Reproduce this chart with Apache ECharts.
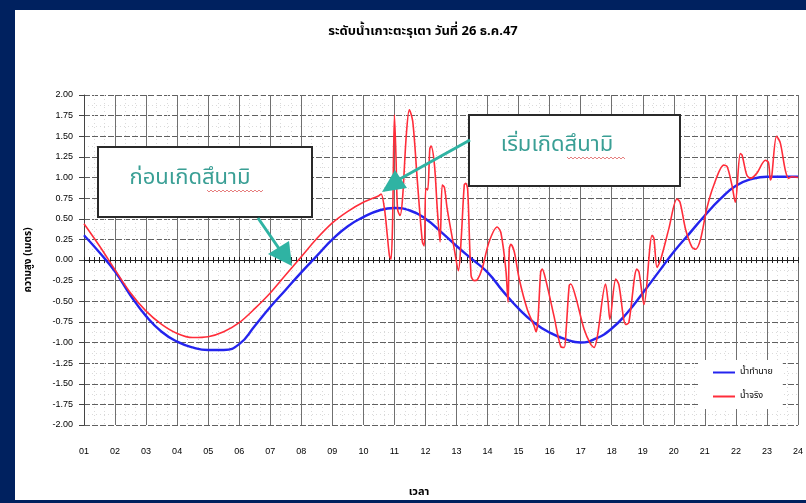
<!DOCTYPE html>
<html>
<head>
<meta charset="utf-8">
<script src="https://cdn.jsdelivr.net/npm/echarts@6/dist/echarts.min.js"></script>
<style>
  html, body { margin: 0; padding: 0; background: #00215f; }
  #chart { width: 806px; height: 503px; }
</style>
</head>
<body>
<div id="chart"></div>
<script>
// ---- data ----
const titleText = 'ระดับน้ำเกาะตะรุเตา วันที่ 26 ธ.ค.47';
const xAxisName = 'เวลา';
const yAxisName = 'ความสูง (เมตร)';
const seriesNames = ['น้ำทำนาย', 'น้ำจริง'];
const noteBefore = 'ก่อนเกิดสึนามิ';
const noteStart = 'เริ่มเกิดสึนามิ';

const hourTicks = ['01','02','03','04','05','06','07','08','09','10','11','12','13','14','15','16','17','18','19','20','21','22','23','24'];

// predicted tide (hour, metres)
const blueHours = [1, 1.5, 2, 2.5, 3, 3.5, 4, 4.5, 5, 5.5, 6, 6.5, 7, 7.5, 8, 8.5, 9, 9.5, 10, 10.5, 11, 11.5, 12, 12.5, 13, 13.5, 14, 14.5, 15, 15.5, 16, 16.5, 17, 17.5, 18, 18.5, 19, 19.5, 20, 20.5, 21, 21.5, 22, 22.5, 23, 23.5, 24];
const blueValues = [0.30, 0.09, -0.14, -0.43, -0.68, -0.87, -0.99, -1.06, -1.09, -1.09, -1.02, -0.80, -0.57, -0.36, -0.15, 0.05, 0.25, 0.41, 0.52, 0.60, 0.63, 0.60, 0.50, 0.34, 0.17, 0.01, -0.15, -0.38, -0.59, -0.76, -0.88, -0.96, -1.00, -0.95, -0.83, -0.64, -0.40, -0.15, 0.10, 0.32, 0.54, 0.74, 0.90, 0.98, 1.01, 1.01, 1.01];

// observed water level (hour, metres)
const redHours = [1.0, 1.5, 2.0, 2.5, 3.0, 3.5, 4.0, 4.5, 5.0, 5.5, 6.0, 6.5, 7.0, 7.5, 8.0, 8.5, 9.0, 9.5, 10.0, 10.5,
  10.57, 10.68, 10.77, 10.84, 10.89, 10.94, 11.0, 11.05, 11.1, 11.18, 11.26, 11.38, 11.48, 11.59, 11.74, 11.9, 11.96,
  12.01, 12.07, 12.14, 12.18, 12.29, 12.38, 12.47, 12.54, 12.61, 12.7, 12.93, 13.06, 13.15, 13.25, 13.3, 13.36, 13.47,
  13.57, 13.67, 13.83, 14.05, 14.31, 14.43, 14.59, 14.66, 14.7, 14.75, 14.86, 15.02, 15.28, 15.5, 15.56, 15.62, 15.71,
  15.76, 15.88, 16.14, 16.36, 16.47, 16.53, 16.63, 16.68, 16.84, 17.11, 17.32, 17.43, 17.54, 17.8, 17.88, 17.94, 18.13,
  18.23, 18.45, 18.55, 18.81, 18.88, 19.04, 19.3, 19.36, 19.46, 19.58, 19.84, 20.1, 20.2, 20.38, 20.58, 20.7, 20.86,
  21.06, 21.29, 21.61, 21.72, 21.87, 21.98, 22.14, 22.2, 22.35, 22.47, 22.67, 22.95, 23.05, 23.11, 23.15, 23.31, 23.43,
  23.59, 23.7, 23.8, 24.0];
const redValues = [0.44, 0.17, -0.12, -0.40, -0.62, -0.78, -0.89, -0.94, -0.93, -0.87, -0.76, -0.59, -0.40, -0.18, 0.04, 0.26, 0.45, 0.59, 0.70, 0.78,
  0.80, 0.62, 0.30, 0.05, 0.01, 0.45, 1.76, 1.25, 0.62, 0.54, 0.74, 1.50, 1.82, 1.68, 0.95, 0.22, 0.17,
  0.87, 0.85, 1.35, 1.38, 1.15, 0.62, 0.22, 0.91, 0.88, 0.62, 0.13, -0.13, 0.25, 0.91, 0.93, 0.85, -0.19,
  -0.25, -0.24, -0.10, 0.22, 0.40, 0.33, -0.12, -0.51, 0.13, 0.19, 0.10, -0.23, -0.60, -0.80, -0.87, -0.75, -0.15,
  -0.11, -0.25, -0.68, -1.05, -1.06, -0.85, -0.31, -0.29, -0.45, -0.84, -1.02, -1.06, -0.92, -0.29, -0.50, -0.72, -0.23,
  -0.30, -0.78, -0.76, -0.11, -0.15, -0.54, 0.30, 0.26, -0.09, 0.01, 0.38, 0.74, 0.70, 0.37, 0.16, 0.13, 0.25,
  0.62, 0.91, 1.15, 1.13, 0.91, 0.70, 1.29, 1.27, 1.03, 0.99, 1.05, 1.21, 1.18, 0.97, 1.00, 1.50, 1.42,
  1.09, 0.99, 1.01, 1.00];

// ---- build chart ----
const thaiFont = "'Noto Sans Thai', 'Noto Sans', 'Liberation Sans', sans-serif";
const numFont = "'Liberation Sans', Arial, sans-serif";
const blueData = blueHours.map((h, i) => [h, blueValues[i]]);
const redData = redHours.map((h, i) => [h, redValues[i]]);

function squiggle(x0, x1, y) {
  const pts = [];
  let up = true;
  for (let x = x0; x <= x1; x += 2) { pts.push([x, up ? y - 1 : y + 1]); up = !up; }
  return pts;
}

const teal = '#2fb3a3';
const tealText = '#3a9f95';

const chart = echarts.init(document.getElementById('chart'), null, { renderer: 'canvas' });
const xBase = { type: 'value', min: 1, max: 24, interval: 1, gridIndex: 0 };
chart.setOption({
  backgroundColor: '#00215f',
  animation: false,
  title: [
    { text: titleText, left: 418, top: 21, textAlign: 'center',
      textStyle: { fontFamily: thaiFont, fontSize: 13, fontWeight: 'bold', color: '#000' } },
    { text: xAxisName, left: 414, top: 482, textAlign: 'center',
      textStyle: { fontFamily: thaiFont, fontSize: 11, fontWeight: 'bold', color: '#000' } }
  ],
  grid: { left: 84, right: 7, top: 95, bottom: 78, containLabel: false },
  legend: {
    orient: 'vertical', left: 700, top: 360, itemGap: 15, itemWidth: 22, itemHeight: 2,
    padding: [8, 10, 8, 13], backgroundColor: '#fff', icon: 'rect',
    textStyle: { fontFamily: thaiFont, fontSize: 9, color: '#000' },
    data: seriesNames
  },
  xAxis: [
    Object.assign({}, xBase, {
      position: 'bottom',
      axisLine: { show: false, onZero: false },
      axisTick: { show: false },
      axisLabel: { margin: 22, fontFamily: numFont, fontSize: 9, color: '#000',
        formatter: v => hourTicks[Math.round(v) - 1] || '' },
      splitLine: { show: true, lineStyle: { color: '#707070', width: 1 } },
      minorTick: { show: false, splitNumber: 3 },
      minorSplitLine: { show: true, lineStyle: { color: '#dadada', width: 1, type: [1, 3] } }
    }),
    Object.assign({}, xBase, {
      position: 'bottom',
      axisLine: { show: true, onZero: true, onZeroAxisIndex: 0, lineStyle: { color: '#222', width: 1 } },
      axisTick: { show: true, length: 3, lineStyle: { color: '#222' } },
      minorTick: { show: true, splitNumber: 6, length: 3, lineStyle: { color: '#222' } },
      axisLabel: { show: false }, splitLine: { show: false }
    }),
    Object.assign({}, xBase, {
      position: 'top',
      axisLine: { show: true, onZero: true, onZeroAxisIndex: 0, lineStyle: { color: '#222', width: 1 } },
      axisTick: { show: true, length: 3, lineStyle: { color: '#222' } },
      minorTick: { show: true, splitNumber: 6, length: 3, lineStyle: { color: '#222' } },
      axisLabel: { show: false }, splitLine: { show: false }
    })
  ],
  yAxis: {
    type: 'value', min: -2, max: 2, interval: 0.25,
    name: yAxisName, nameLocation: 'middle', nameGap: 50, nameRotate: 90,
    nameTextStyle: { fontFamily: thaiFont, fontSize: 10, fontWeight: 'bold', color: '#000' },
    axisLine: { show: true, onZero: false, lineStyle: { color: '#444', width: 1 } },
    axisTick: { show: true, length: 5, lineStyle: { color: '#444' } },
    axisLabel: { margin: 11, fontFamily: numFont, fontSize: 9, color: '#000', formatter: v => v.toFixed(2) },
    splitLine: { show: true, lineStyle: { color: '#606060', width: 1, type: [6, 2] } },
    minorTick: { show: false, splitNumber: 2 },
    minorSplitLine: { show: true, lineStyle: { color: '#dadada', width: 1, type: [1, 3] } }
  },
  series: [
    { name: seriesNames[0], type: 'line', xAxisIndex: 0, data: blueData, showSymbol: false, symbol: 'none',
      smooth: 0.5, itemStyle: { color: '#2424ee' }, lineStyle: { color: '#2424ee', width: 2.4 }, z: 3 },
    { name: seriesNames[1], type: 'line', xAxisIndex: 0, data: redData, showSymbol: false, symbol: 'none',
      smooth: 0.3, itemStyle: { color: '#ff2d3a' }, lineStyle: { color: '#ff2d3a', width: 1.6 }, z: 4 }
  ],
  graphic: [
    { type: 'rect', z: -100, silent: true, shape: { x: 15, y: 10, width: 791, height: 490 }, style: { fill: '#fff' } },
    // annotation 1
    { type: 'rect', z: 100, shape: { x: 98, y: 147, width: 214, height: 70 }, style: { fill: '#fff', stroke: '#2a2a2a', lineWidth: 2 } },
    { type: 'text', z: 101, style: { text: noteBefore, x: 190, y: 180, align: 'center', verticalAlign: 'middle',
      font: "22px " + thaiFont, fill: tealText } },
    { type: 'polyline', z: 101, shape: { points: squiggle(207, 263, 191) }, style: { stroke: '#e06060', lineWidth: 0.8, fill: null } },
    { type: 'line', z: 102, shape: { x1: 258, y1: 218, x2: 280, y2: 250 }, style: { stroke: teal, lineWidth: 3 } },
    { type: 'polygon', z: 102, shape: { points: [[268, 254], [289, 241], [292, 266]] }, style: { fill: teal } },
    // annotation 2
    { type: 'rect', z: 100, shape: { x: 469, y: 115, width: 211, height: 71 }, style: { fill: '#fff', stroke: '#2a2a2a', lineWidth: 2 } },
    { type: 'text', z: 101, style: { text: noteStart, x: 557, y: 147, align: 'center', verticalAlign: 'middle',
      font: "22px " + thaiFont, fill: tealText } },
    { type: 'polyline', z: 101, shape: { points: squiggle(567, 625, 158) }, style: { stroke: '#e06060', lineWidth: 0.8, fill: null } },
    { type: 'line', z: 102, shape: { x1: 470, y1: 140, x2: 398, y2: 180 }, style: { stroke: teal, lineWidth: 3 } },
    { type: 'polygon', z: 102, shape: { points: [[382, 192], [395, 170], [407, 188]] }, style: { fill: teal } }
  ]
});
</script>
</body>
</html>
